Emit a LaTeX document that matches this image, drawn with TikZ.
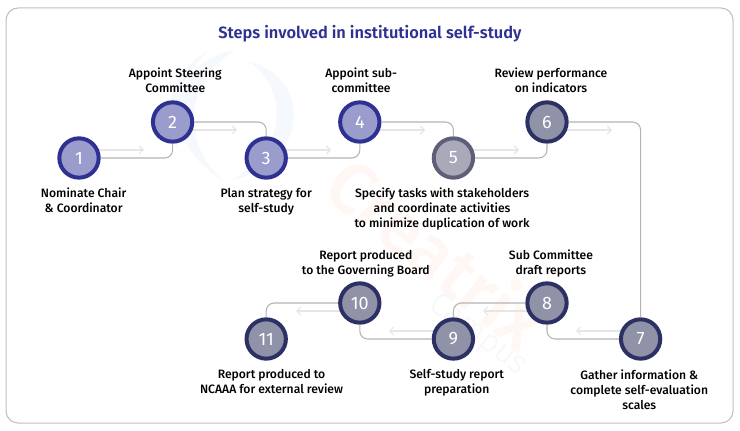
\documentclass[tikz,border=0pt]{standalone}
\usepackage{fontspec}
\setmainfont{Fira Sans}[UprightFont=* Medium,BoldFont=* SemiBold]
\newfontfamily\digitfont{Fira Sans}
\newfontfamily\markfont{Fira Sans Light}
\usepackage{xcolor}
\usetikzlibrary{arrows.meta,positioning,backgrounds}
\definecolor{StudyBlue}{HTML}{2E3192}
\definecolor{StudyLilac}{HTML}{9A9CCB}
\definecolor{StudySlate}{HTML}{5E5E78}
\definecolor{StudyMist}{HTML}{A9A9B9}
\definecolor{StudyNavy}{HTML}{2C3063}
\definecolor{StudyFog}{HTML}{9092A8}
\definecolor{StudyLine}{HTML}{B4B4B4}
\definecolor{StudyHint}{HTML}{E6E6E6}
\definecolor{StudyArc}{HTML}{F5F8FC}
\definecolor{StudyPeach}{HTML}{FFF7F4}
\definecolor{StudyAsh}{HTML}{F7F7F7}

\begin{document}
\begin{tikzpicture}[x=0.75pt,y=-0.75pt,
  stepnode/.style={circle,line width=3pt,minimum size=29.5pt,inner sep=0pt,text=white,font=\digitfont\fontsize{13.5}{13.5}\selectfont},
  firststep/.style={stepnode,draw=StudyBlue,fill=StudyLilac},
  midstep/.style={stepnode,draw=StudySlate,fill=StudyMist},
  laststep/.style={stepnode,draw=StudyNavy,fill=StudyFog},
  lbl/.style={align=center,inner sep=0pt,font=\fontsize{9.1}{11.25}\selectfont},
  link/.style={line width=0.8pt,draw=StudyLine,rounded corners=6pt},
  hint/.style={-{Straight Barb[length=3pt,width=6pt]},line width=0.9pt,draw=StudyHint},
  on grid,node distance=27pt and 70.2pt]
  \useasboundingbox (0,0) rectangle (740,431);
  \node[font=\fontsize{12.3}{15}\selectfont\bfseries,text=StudyBlue] (title) at (370,34) {Steps involved in institutional self-study};
  % top row
  \node[firststep] (n1) at (79,158) {1};
  \node[firststep,above right=of n1] (n2) {2};
  \node[firststep,below right=of n2] (n3) {3};
  \node[firststep,above right=of n3] (n4) {4};
  \node[midstep,below right=of n4] (n5) {5};
  \node[laststep,above right=of n5] (n6) {6};
  % bottom row
  \node[laststep,below right=162.75pt and 70.2pt of n6] (n7) {7};
  \node[laststep,above left=of n7] (n8) {8};
  \node[laststep,below left=of n8] (n9) {9};
  \node[laststep,above left=of n9] (n10) {10};
  \node[laststep,below left=of n10] (n11) {11};
  % labels
  \node[lbl,below=31.5pt of n1,xshift=3.5pt] (l1) {Nominate Chair\\\& Coordinator};
  \node[lbl,above=31.5pt of n2,xshift=2pt] (l2) {Appoint Steering\\Committee};
  \node[lbl,below=33pt of n3] (l3) {Plan strategy for\\self-study};
  \node[lbl,above=31.5pt of n4,xshift=1pt] (l4) {Appoint sub-\\committee};
  \node[lbl,below=38.5pt of n5,xshift=-8.5pt] (l5) {Specify tasks with stakeholders\\and coordinate activities\\to minimize duplication of work};
  \node[lbl,above=31.5pt of n6,xshift=3pt] (l6) {Review performance\\on indicators};
  \node[lbl,below=37.7pt of n7,xshift=-1pt] (l7) {Gather information \&\\complete self-evaluation\\scales};
  \node[lbl,above=29.5pt of n8,xshift=3pt] (l8) {Sub Committee\\draft reports};
  \node[lbl,below=33pt of n9,xshift=2.5pt] (l9) {Self-study report\\preparation};
  \node[lbl,above=29.5pt of n10,xshift=4.5pt] (l10) {Report produced\\to the Governing Board};
  \node[lbl,below=32.2pt of n11,xshift=4pt] (l11) {Report produced to\\NCAAA for external review};
  \draw[link] (n1) -| (n2);
  \draw[link] (n2) -| (n3);
  \draw[link] (n3) -| (n4);
  \draw[link] (n4) -| (n5);
  \draw[link] (n5) -| (n6);
  \draw[link] (n6) -| (n7);
  \draw[link] (n7) -| (n8);
  \draw[link] (n8) -| (n9);
  \draw[link] (n9) -| (n10);
  \draw[link] (n10) -| (n11);
  \coordinate (t1) at (144,150);
  \coordinate (t2) at (237,130);
  \coordinate (t3) at (331,150);
  \coordinate (t4) at (425,130);
  \coordinate (t5) at (519,150);
  \coordinate (t6) at (612,130);
  \coordinate (t7) at (576,331);
  \coordinate (t8) at (483,311);
  \coordinate (t9) at (389,331);
  \coordinate (t10) at (296,311);
  \begin{scope}[on background layer]
    \draw[draw=StudyLine!85,fill=white,line width=0.75pt,rounded corners=9pt] (6,8) rectangle (733,423);
    % faint logo behind the steps
    \fill[StudyArc] (235,50) .. controls (172,62) and (152,135) .. (222,180) .. controls (180,140) and (185,82) .. (235,50);
    \fill[StudyArc] (207,52) .. controls (170,72) and (160,115) .. (178,150) .. controls (170,110) and (180,78) .. (207,52);
    \fill[StudyArc] (250,62) .. controls (312,78) and (310,162) .. (232,180) .. controls (284,150) and (292,95) .. (250,62);
    \node[rotate=-39,text=StudyPeach,font=\fontsize{54}{54}\selectfont] (mark) at (438,252) {Creatrix};
    \node[rotate=-37,text=StudyAsh,font=\markfont\fontsize{24}{24}\selectfont] (markb) at (478,335) {Campus};
    \draw[hint] (n1.center|-t1) -- (t1);
    \draw[hint] (n2.center|-t2) -- (t2);
    \draw[hint] (n3.center|-t3) -- (t3);
    \draw[hint] (n4.center|-t4) -- (t4);
    \draw[hint] (n5.center|-t5) -- (t5);
    \draw[hint] (n6.center|-t6) -- (t6);
    \draw[hint] (n7.center|-t7) -- (t7);
    \draw[hint] (n8.center|-t8) -- (t8);
    \draw[hint] (n9.center|-t9) -- (t9);
    \draw[hint] (n10.center|-t10) -- (t10);
  \end{scope}
\end{tikzpicture}
\end{document}
